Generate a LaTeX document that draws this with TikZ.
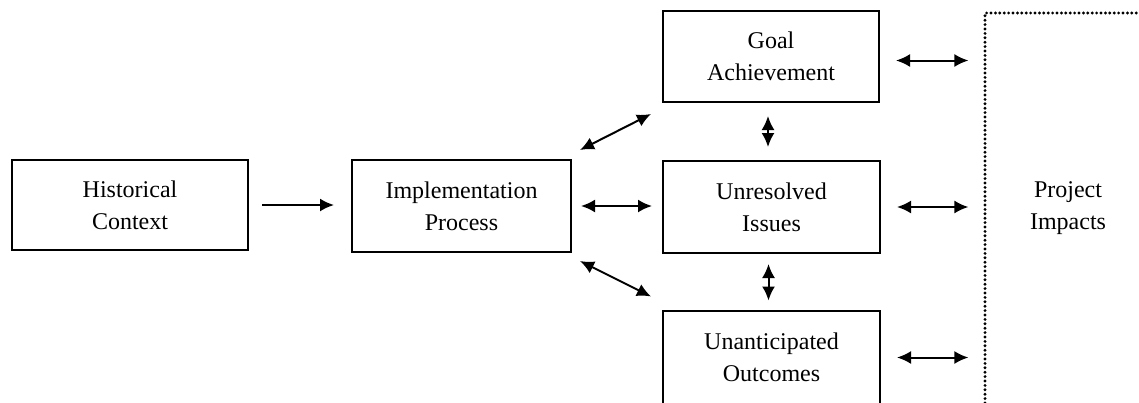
\documentclass[tikz,border=0pt]{standalone}
\usepackage{fontspec}
\setmainfont{Liberation Serif}
\usetikzlibrary{arrows.meta}

\begin{document}
\begin{tikzpicture}[x=0.5pt, y=-0.5pt,
		box/.style={draw, line width=1pt, align=center, font=\fontsize{12}{16}\selectfont, inner sep=0pt},
		dotbox/.style={draw, line width=1.6pt, line cap=round, dash pattern=on 0pt off 2.2pt, align=center, font=\fontsize{12}{16}\selectfont, inner sep=0pt},
		link/.style={line width=1pt, >={Latex[length=7pt,width=6.5pt]}}]
		\useasboundingbox (0,0) rectangle (1139,402);
		\clip (0,0) rectangle (1139,402);
		
		\node [box, minimum width=118pt, minimum height=45pt] (hist) at (130,205) {Historical\\Context};
		\node [box, minimum width=109.5pt, minimum height=46pt] (impl) at (461.5,206) {Implementation\\Process};
		\node [box, minimum width=108pt, minimum height=45.5pt] (goal) at (771,56.5) {Goal\\Achievement};
		\node [box, minimum width=108.5pt, minimum height=46pt] (unres) at (771.5,207) {Unresolved\\Issues};
		\node [box, minimum width=108.5pt, minimum height=47pt] (unant) at (771.5,357.5) {Unanticipated\\Outcomes};
		\node [dotbox, minimum width=83pt, minimum height=200pt] (impact) at (1068,213) {};
		\node [font=\fontsize{12}{16}\selectfont, align=center] (impacttext) at (1068,208) {Project\\Impacts};
		
		\draw [link, ->, shorten <=6.5pt, shorten >=8.5pt] (hist.east) -- (hist.east -| impl.west);
		\draw [link, <->, shorten <=4.5pt, shorten >=5pt] (impl.east) -- (impl.east -| unres.west);
		\draw [link, <->] ([shift={(4pt,4.5pt)}]impl.north east) -- ([shift={(-5.5pt,-5.5pt)}]goal.south west);
		\draw [link, <->] ([shift={(4pt,-4pt)}]impl.south east) -- ([shift={(-5.5pt,6.5pt)}]unant.north west);
		\draw [link, <->, shorten <=6.5pt, shorten >=6.5pt] ([xshift=-1.5pt]goal.south) -- ([xshift=-1.5pt]goal.south |- unres.north);
		\draw [link, <->, shorten <=5pt, shorten >=4.5pt] ([xshift=-1.5pt]unres.south) -- ([xshift=-1.5pt]unres.south |- unant.north);
		\draw [link, <->, shorten <=8pt, shorten >=7.5pt] ([yshift=-2pt]goal.east) -- ([yshift=-2pt]goal.east -| impact.west);
		\draw [link, <->, shorten <=8pt, shorten >=7.5pt] (unres.east) -- (unres.east -| impact.west);
		\draw [link, <->, shorten <=8pt, shorten >=7.5pt] (unant.east) -- (unant.east -| impact.west);
		
		\end{tikzpicture}
\end{document}
